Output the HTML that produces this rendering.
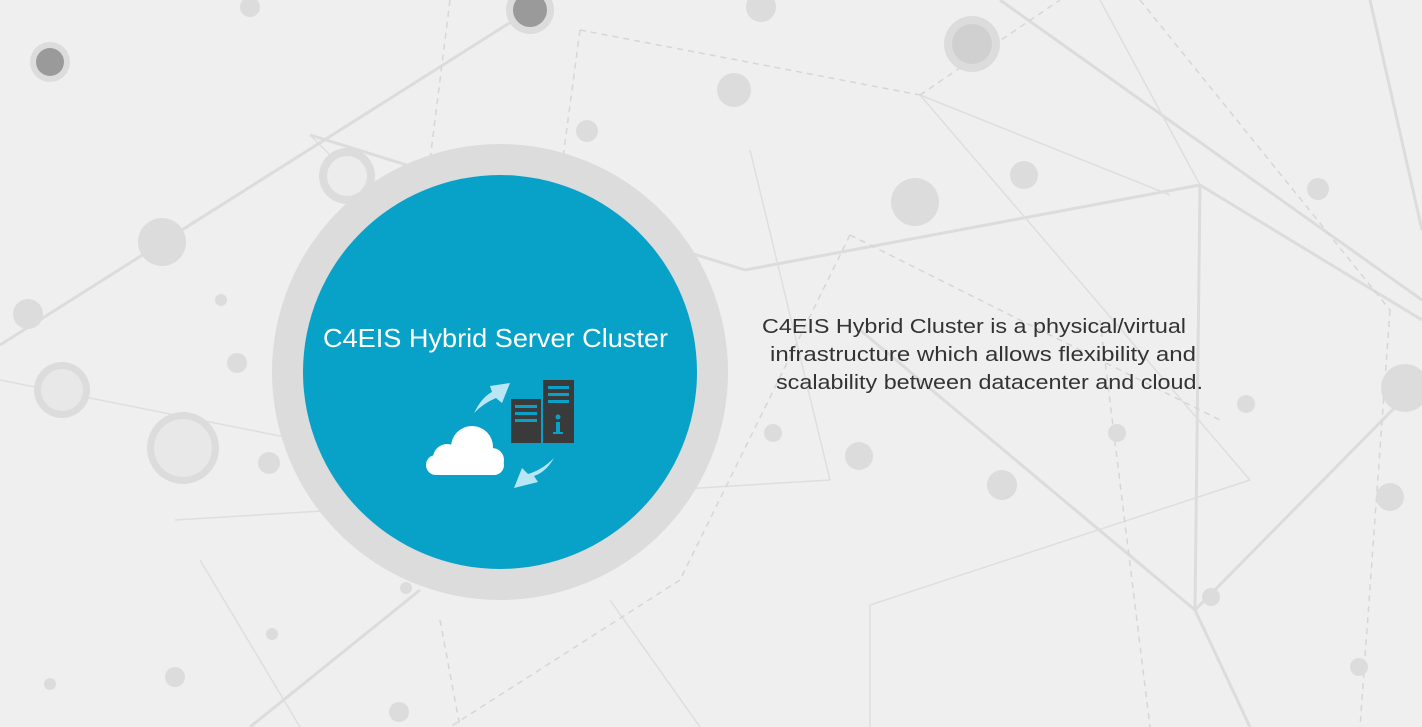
<!DOCTYPE html>
<html><head><meta charset="utf-8"><style>
html,body{margin:0;padding:0;background:#efefef;}
svg{display:block}
</style></head><body>
<svg width="1422" height="727" viewBox="0 0 1422 727" xmlns="http://www.w3.org/2000/svg">
<rect width="1422" height="727" fill="#efefef"/>
<g stroke="#dcdcdc" stroke-width="3" fill="none">
<line x1="0" y1="345" x2="530" y2="10"/>
<line x1="310" y1="135" x2="745" y2="270"/>
<line x1="745" y1="270" x2="1200" y2="185"/>
<line x1="1000" y1="0" x2="1422" y2="300"/>
<line x1="1200" y1="185" x2="1195" y2="610"/>
<line x1="860" y1="330" x2="1195" y2="610"/>
<line x1="1195" y1="610" x2="1422" y2="380"/>
<line x1="1195" y1="610" x2="1250" y2="727"/>
<line x1="1370" y1="0" x2="1422" y2="230"/>
<line x1="420" y1="590" x2="250" y2="727"/>
<line x1="1200" y1="185" x2="1422" y2="320"/>
</g>
<g stroke="#dedede" stroke-width="1.5" fill="none">
<line x1="0" y1="380" x2="300" y2="440"/>
<line x1="175" y1="520" x2="830" y2="480"/>
<line x1="200" y1="560" x2="300" y2="727"/>
<line x1="610" y1="600" x2="700" y2="727"/>
<line x1="920" y1="95" x2="1250" y2="480"/>
<line x1="920" y1="95" x2="1170" y2="195"/>
<line x1="870" y1="605" x2="870" y2="727"/>
<line x1="870" y1="605" x2="1250" y2="480"/>
<line x1="750" y1="150" x2="830" y2="480"/>
<line x1="1100" y1="0" x2="1200" y2="185"/>
<line x1="310" y1="135" x2="360" y2="185"/>
</g>
<g stroke="#d6d6d6" stroke-width="1.5" fill="none" stroke-dasharray="6,5">
<line x1="580" y1="30" x2="920" y2="95"/>
<line x1="920" y1="95" x2="1060" y2="0"/>
<line x1="580" y1="30" x2="560" y2="180"/>
<line x1="850" y1="235" x2="1220" y2="420"/>
<line x1="1140" y1="0" x2="1390" y2="310"/>
<line x1="1390" y1="310" x2="1360" y2="727"/>
<line x1="1100" y1="320" x2="1150" y2="727"/>
<line x1="440" y1="620" x2="460" y2="727"/>
<line x1="850" y1="235" x2="680" y2="580"/>
<line x1="680" y1="580" x2="450" y2="727"/>
<line x1="450" y1="0" x2="430" y2="160"/>
</g>
<g fill="#dcdcdc">
<circle cx="162" cy="242" r="24"/>
<circle cx="28" cy="314" r="15"/>
<circle cx="734" cy="90" r="17"/>
<circle cx="915" cy="202" r="24"/>
<circle cx="1024" cy="175" r="14"/>
<circle cx="587" cy="131" r="11"/>
<circle cx="761" cy="7" r="15"/>
<circle cx="250" cy="7" r="10"/>
<circle cx="1318" cy="189" r="11"/>
<circle cx="1405" cy="388" r="24"/>
<circle cx="1390" cy="497" r="14"/>
<circle cx="1246" cy="404" r="9"/>
<circle cx="1117" cy="433" r="9"/>
<circle cx="1002" cy="485" r="15"/>
<circle cx="859" cy="456" r="14"/>
<circle cx="773" cy="433" r="9"/>
<circle cx="237" cy="363" r="10"/>
<circle cx="221" cy="300" r="6"/>
<circle cx="269" cy="463" r="11"/>
<circle cx="175" cy="677" r="10"/>
<circle cx="272" cy="634" r="6"/>
<circle cx="50" cy="684" r="6"/>
<circle cx="399" cy="712" r="10"/>
<circle cx="406" cy="588" r="6"/>
<circle cx="1211" cy="597" r="9"/>
<circle cx="1359" cy="667" r="9"/>
</g>
<g>
<circle cx="50" cy="62" r="20" fill="#dcdcdc"/><circle cx="50" cy="62" r="14" fill="#9a9a9a"/>
<circle cx="530" cy="10" r="24" fill="#dcdcdc"/><circle cx="530" cy="10" r="17" fill="#9a9a9a"/>
<circle cx="972" cy="44" r="28" fill="#dcdcdc"/><circle cx="972" cy="44" r="20" fill="#d0d0d0"/>
<circle cx="347" cy="176" r="28" fill="#dcdcdc"/><circle cx="347" cy="176" r="20" fill="#ececec"/>
<circle cx="62" cy="390" r="28" fill="#dcdcdc"/><circle cx="62" cy="390" r="21" fill="#e8e8e8"/>
<circle cx="183" cy="448" r="36" fill="#dcdcdc"/><circle cx="183" cy="448" r="29" fill="#e8e8e8"/>
</g>
<circle cx="500" cy="372" r="228" fill="#dcdcdc"/>
<circle cx="500" cy="372" r="197" fill="#08a2c8"/>
<text x="323" y="347" textLength="345" lengthAdjust="spacingAndGlyphs" font-family="Liberation Sans, sans-serif" font-size="26" fill="#ffffff">C4EIS Hybrid Server Cluster</text>
<!-- cloud -->
<g fill="#ffffff">
<circle cx="472" cy="447" r="21"/>
<circle cx="447" cy="458" r="14"/>
<circle cx="492" cy="460" r="12"/>
<rect x="426" y="455" width="78" height="20" rx="10"/>
</g>
<!-- servers -->
<rect x="511" y="399" width="30" height="44" fill="#3a3a3a"/>
<rect x="543" y="380" width="31" height="63" fill="#3a3a3a"/>
<g fill="#08a2c8">
<rect x="515" y="405" width="22" height="3"/><rect x="515" y="412" width="22" height="3"/><rect x="515" y="419" width="22" height="3"/>
<rect x="548" y="386" width="21" height="3"/><rect x="548" y="393" width="21" height="3"/><rect x="548" y="400" width="21" height="3"/>
<circle cx="558" cy="417" r="2.5"/><rect x="556" y="422" width="4" height="11"/><rect x="553" y="432" width="10" height="2"/>
</g>
<!-- arrows -->
<g fill="#b8e6f5">
<path d="M474 413 Q482 397 492 392 L490 386 L510 383 L502 403 L496 398 Q484 403 474 413 Z"/>
<path d="M554 458 Q546 472 534 476 L538 482 L514 488 L522 468 L528 474 Q542 470 554 458 Z"/>
</g>
<g font-family="Liberation Sans, sans-serif" font-size="20" fill="#333333">
<text x="762" y="333" textLength="424" lengthAdjust="spacingAndGlyphs">C4EIS Hybrid Cluster is a physical/virtual</text>
<text x="770" y="361" textLength="426" lengthAdjust="spacingAndGlyphs">infrastructure which allows flexibility and</text>
<text x="776" y="389" textLength="427" lengthAdjust="spacingAndGlyphs">scalability between datacenter and cloud.</text>
</g>
</svg>
</body></html>
